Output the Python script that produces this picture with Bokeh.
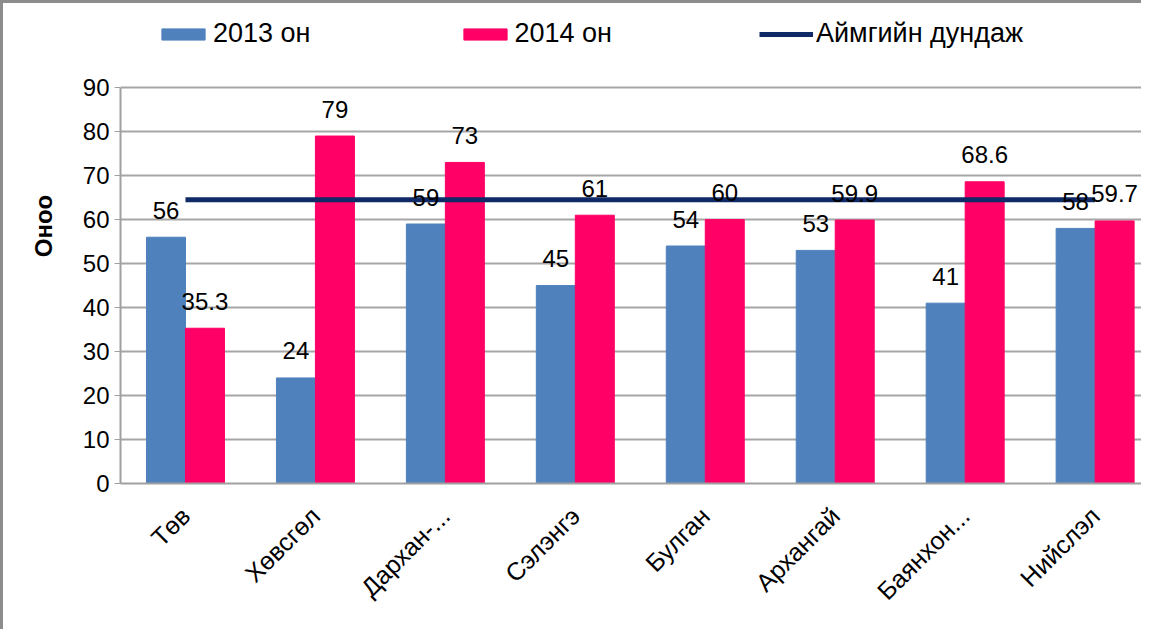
import math
from bokeh.plotting import figure
from bokeh.models import (ColumnDataSource, FixedTicker, LabelSet, Legend, LegendItem,
                          Range1d)
from bokeh.core.properties import value
from bokeh.embed import file_html
from bokeh.resources import INLINE

categories = ["Төв", "Хөвсгөл", "Дархан-...", "Сэлэнгэ", "Булган", "Архангай", "Баянхон...", "Нийслэл"]
y2013 = [56, 24, 59, 45, 54, 53, 41, 58]
y2014 = [35.3, 79, 73, 61, 60, 59.9, 68.6, 59.7]
avg = [64.5, 64.5, 64.5, 64.5, 64.5, 64.5, 64.5, 64.5]
labels2013 = ["56", "24", "59", "45", "54", "53", "41", "58"]
labels2014 = ["35.3", "79", "73", "61", "60", "59.9", "68.6", "59.7"]

xc = [i + 0.5 for i in range(len(categories))]
bw = 0.30
FONT = "Liberation Sans"

src = ColumnDataSource(dict(
    x=xc,
    x1=[x - bw / 2 for x in xc],
    x2=[x + bw / 2 for x in xc],
    y2013=y2013, y2014=y2014, avg=avg,
    l2013=labels2013, l2014=labels2014,
))

p = figure(width=1141, height=629, output_backend="svg", toolbar_location=None,
           x_range=Range1d(0, 7.88), y_range=Range1d(0, 108),
           min_border_left=117, min_border_right=0, min_border_top=5, min_border_bottom=149)
p.styles = {"border-left": "3px solid #8c8c8c", "border-top": "3px solid #8c8c8c"}
p.outline_line_color = None
p.background_fill_color = "white"

r1 = p.vbar(x="x1", width=bw, top="y2013", bottom=0, source=src,
            fill_color="#4F81BD", line_color="#4F81BD")
r2 = p.vbar(x="x2", width=bw, top="y2014", bottom=0, source=src,
            fill_color="#FF0066", line_color="#FF0066")
r3 = p.line(x="x", y="avg", source=src, line_color="#0F2A66", line_width=5)

for col, xcol in (("l2013", "x1"), ("l2014", "x2")):
    ycol = "y2013" if col == "l2013" else "y2014"
    p.add_layout(LabelSet(x=xcol, y=ycol, text=col, source=src, y_offset=27,
                          text_align="center", text_baseline="middle",
                          text_font=value(FONT), text_font_size="24px", text_color="#000000"))

# axes
p.xaxis.ticker = FixedTicker(ticks=xc)
p.xaxis.major_label_overrides = {x: c for x, c in zip(xc, categories)}
p.xaxis.major_label_orientation = math.pi / 4
p.xaxis.major_tick_line_color = None
p.xaxis.minor_tick_line_color = None
p.xaxis.axis_line_color = "#a0a0a0"
p.xaxis.axis_line_width = 2
p.xaxis.major_label_text_font = FONT
p.xaxis.major_label_text_font_size = "25px"
p.xaxis.major_label_text_color = "#000000"
p.xaxis.major_label_standoff = 22

p.yaxis.ticker = FixedTicker(ticks=list(range(0, 91, 10)))
p.yaxis.bounds = (0, 90)
p.yaxis.axis_line_color = "#a0a0a0"
p.yaxis.axis_line_width = 2
p.yaxis.major_tick_line_color = "#a0a0a0"
p.yaxis.major_tick_out = 6
p.yaxis.major_tick_in = 0
p.yaxis.minor_tick_line_color = None
p.yaxis.major_label_text_font = FONT
p.yaxis.major_label_text_font_size = "24px"
p.yaxis.major_label_text_color = "#000000"
p.yaxis.major_label_standoff = 5
p.yaxis.axis_label = "\u00a0\u00a0\u00a0\u00a0\u00a0\u00a0Оноо"
p.yaxis.axis_label_text_font = FONT
p.yaxis.axis_label_text_font_size = "24px"
p.yaxis.axis_label_text_font_style = "bold"
p.yaxis.axis_label_text_color = "#000000"
p.yaxis.axis_label_standoff = 23

p.xgrid.grid_line_color = None
p.ygrid.grid_line_color = "#a6a6a6"
p.ygrid.grid_line_width = 2

legend = Legend(items=[LegendItem(label="2013 он", renderers=[r1]),
                       LegendItem(label="2014 он", renderers=[r2]),
                       LegendItem(label="Аймгийн дундаж", renderers=[r3])],
                location=(36, 434), orientation="horizontal",
                glyph_width=54, glyph_height=14, label_height=22, label_standoff=3,
                spacing=147, padding=0, margin=0,
                background_fill_alpha=0, border_line_alpha=0,
                label_text_font=FONT, label_text_font_size="27px", label_text_color="#000000")
p.add_layout(legend, "center")

open("out.html", "w").write(file_html(p, INLINE))
